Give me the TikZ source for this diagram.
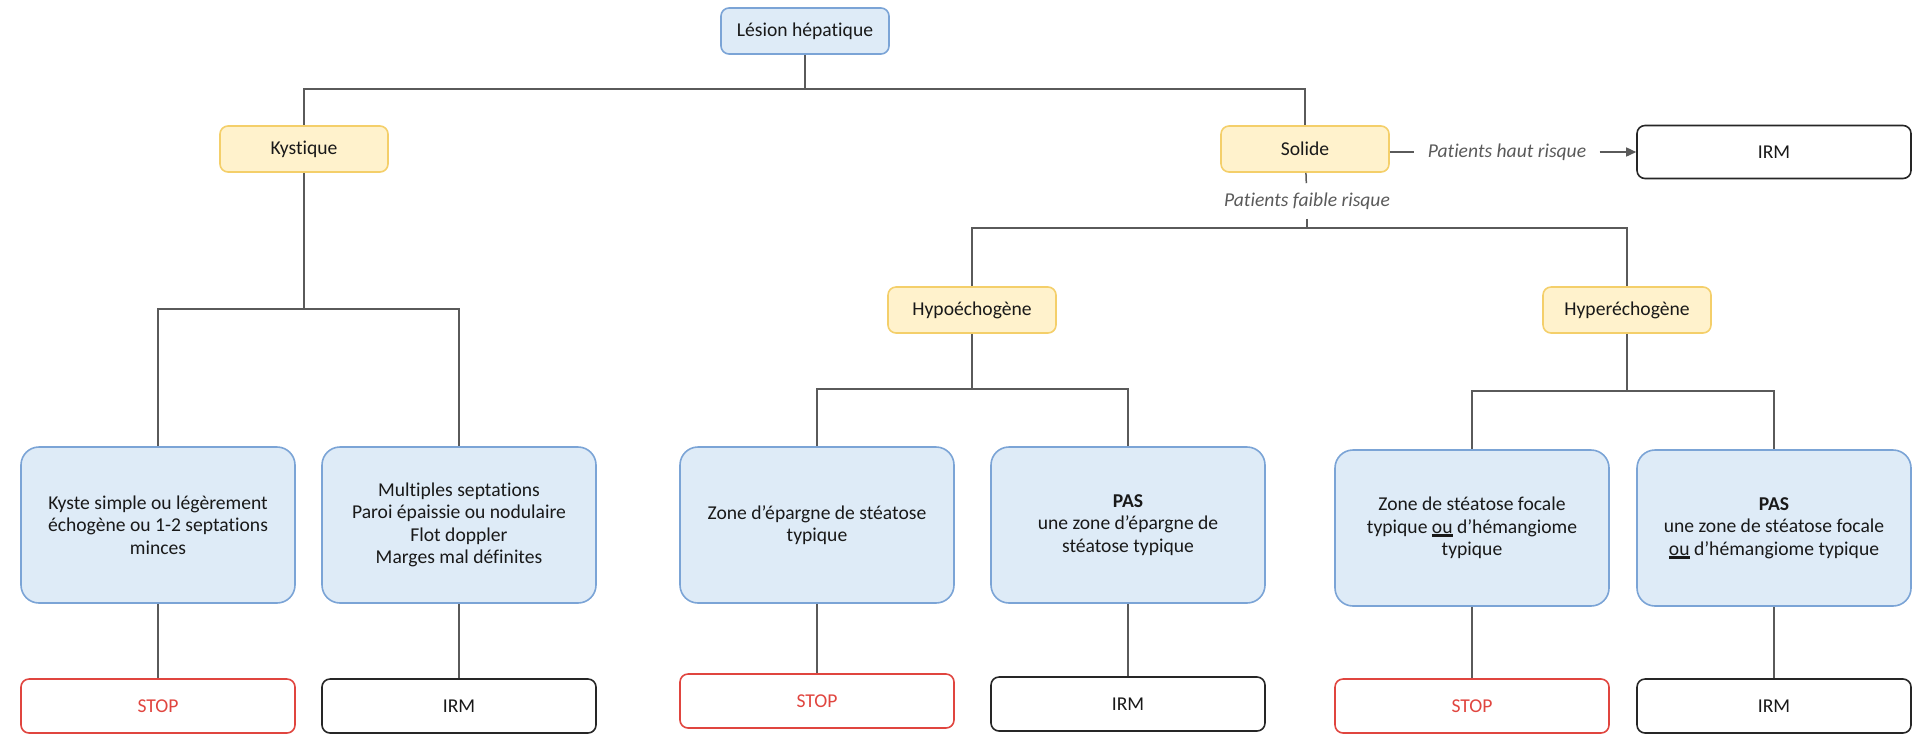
\documentclass[tikz,border=0pt]{standalone}
\usepackage{fontspec}
\setmainfont{Carlito}[Ligatures=NoCommon]
\usetikzlibrary{arrows.meta}
\definecolor{bluefill}{HTML}{DEEBF7}
\definecolor{blueline}{HTML}{7BA4D6}
\definecolor{yelfill}{HTML}{FFF2CC}
\definecolor{yelline}{HTML}{F4CF6A}
\definecolor{stopred}{HTML}{E0453F}
\definecolor{linkgray}{HTML}{5A5A5A}
\newcommand{\ulou}[1]{\vtop{\hbox{#1}\kern0.5pt\hrule height 1.2pt}}
\begin{document}
\begin{tikzpicture}[x=0.5pt,y=-0.5pt,
	every node/.style={font=\fontsize{9.8}{11.2}\selectfont,align=center,inner sep=0pt,text=black!90},
	root/.style={draw=blueline,fill=bluefill,line width=0.8pt,rounded corners=4pt,minimum width=84pt,minimum height=23pt},
	kind/.style={draw=yelline,fill=yelfill,line width=0.8pt,rounded corners=4pt,minimum width=84pt,minimum height=23pt},
	case/.style={draw=blueline,fill=bluefill,line width=0.8pt,rounded corners=9pt,minimum width=137pt,minimum height=78pt},
	stopbox/.style={draw=stopred,text=stopred,line width=0.8pt,rounded corners=4pt,minimum width=137pt,minimum height=27pt},
	irmbox/.style={draw=black!85,line width=0.8pt,rounded corners=4pt,minimum width=137pt,minimum height=27pt},
	risk/.style={font=\fontsize{9.8}{11.2}\selectfont\itshape,text=linkgray,inner xsep=6.5pt,inner ysep=4.5pt},
	link/.style={draw=linkgray,line width=0.75pt}]
	\useasboundingbox (0,0) rectangle (1920,751);

	\node[root] (lesion) at (805,31) {Lésion hépatique};
	\node[kind] (kyst) at (304,149) {Kystique};
	\node[kind] (sol) at (1305,149) {Solide};
	\node[irmbox,minimum height=26.5pt] (irm0) at (1774,152) {IRM};
	\node[risk] (haut) at (1507,152) {Patients haut risque};
	\node[risk] (faible) at (1307,201) {Patients faible risque};
	\node[kind] (hypo) at (972,310) {Hypoéchogène};
	\node[kind] (hyper) at (1627,310) {Hyperéchogène};

	\node[case] (kys) at (158,525) {Kyste simple ou légèrement\\échogène ou 1-2 septations\\minces};
	\node[case] (mult) at (459,525) {Multiples septations\\Paroi épaissie ou nodulaire\\Flot doppler\\Marges mal définites};
	\node[case] (zone1) at (817,525) {Zone d’épargne de stéatose\\typique};
	\node[case] (pas1) at (1128,525) {\textbf{PAS}\\une zone d’épargne de\\stéatose typique};
	\node[case] (zone2) at (1472,528) {Zone de stéatose focale\\typique \ulou{ou} d’hémangiome\\typique};
	\node[case] (pas2) at (1774,528) {\textbf{PAS}\\une zone de stéatose focale\\\ulou{ou} d’hémangiome typique};

	\node[stopbox] (stop1) at (158,706) {STOP};
	\node[irmbox] (irm1) at (459,706) {IRM};
	\node[stopbox] (stop2) at (817,701) {STOP};
	\node[irmbox] (irm2) at (1128,704) {IRM};
	\node[stopbox] (stop3) at (1472,706) {STOP};
	\node[irmbox] (irm3) at (1774,706) {IRM};

	\coordinate (f0) at (805,89);
	\coordinate (f1) at (304,309);
	\coordinate (f2) at (1307,228);
	\coordinate (f3) at (972,389);
	\coordinate (f4) at (1627,391);

	\foreach \p/\f/\a/\b in {lesion/f0/kyst/sol,kyst/f1/kys/mult,faible/f2/hypo/hyper,hypo/f3/zone1/pas1,hyper/f4/zone2/pas2}
		\draw[link] (\p) -- (\f) -| (\a) (\f) -| (\b);
	\foreach \from/\to in {sol/faible,kys/stop1,mult/irm1,zone1/stop2,pas1/irm2,zone2/stop3,pas2/irm3}
		\draw[link] (\from) -- (\to);
	\draw[link] (sol.east |- haut.west) -- (haut.west);
	\draw[link,-{Triangle[length=5pt,width=4.5pt]}] (haut.east) -- (irm0.west);
\end{tikzpicture}
\end{document}
